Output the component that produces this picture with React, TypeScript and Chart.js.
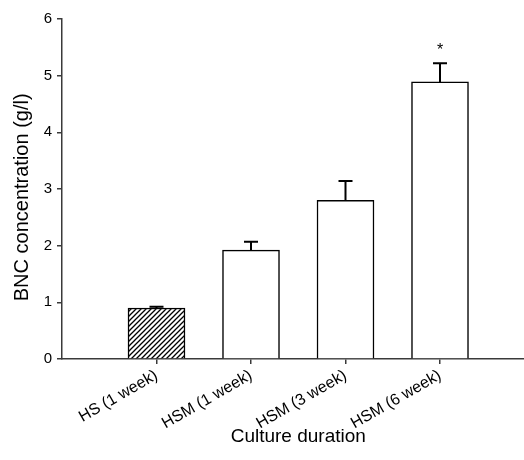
import React, { useEffect, useRef } from "react";
import { Chart, registerables } from "chart.js";

Chart.register(...registerables);

const categories = ["HS (1 week)", "HSM (1 week)", "HSM (3 week)", "HSM (6 week)"];
const positions = [1, 2, 3, 4];
const means = [0.9, 1.92, 2.8, 4.89];
const errors = [0.02, 0.15, 0.34, 0.33];
const marks = ["", "", "", "*"];
const yTicks = [0, 1, 2, 3, 4, 5, 6];

const FONT = "'Liberation Sans', Arial, Helvetica, sans-serif";
const AXIS = "#3a3a3a";

function makeHatch(ctx: CanvasRenderingContext2D) {
  const c = document.createElement("canvas");
  const s = 5;
  c.width = s;
  c.height = s;
  const g = c.getContext("2d")!;
  g.fillStyle = "#fff";
  g.fillRect(0, 0, s, s);
  g.strokeStyle = "#000";
  g.lineWidth = 1.3;
  g.beginPath();
  g.moveTo(0, s);
  g.lineTo(s, 0);
  g.moveTo(-1, 1);
  g.lineTo(1, -1);
  g.moveTo(s - 1, s + 1);
  g.lineTo(s + 1, s - 1);
  g.stroke();
  return ctx.createPattern(c, "repeat")!;
}

const errorPlugin = {
  id: "errorBars",
  afterDatasetsDraw(chart: any) {
    const { ctx } = chart;
    const xs = chart.scales.x;
    const ys = chart.scales.y;
    ctx.save();
    ctx.strokeStyle = "#000";
    ctx.lineWidth = 2;
    positions.forEach((p, i) => {
      const x = xs.getPixelForValue(p);
      const yb = ys.getPixelForValue(means[i]);
      const yt = ys.getPixelForValue(means[i] + errors[i]);
      ctx.beginPath();
      ctx.moveTo(x, yb);
      ctx.lineTo(x, yt);
      ctx.moveTo(x - 7, yt);
      ctx.lineTo(x + 7, yt);
      ctx.stroke();
      if (marks[i]) {
        ctx.fillStyle = "#000";
        ctx.font = `16px ${FONT}`;
        ctx.textAlign = "center";
        ctx.textBaseline = "alphabetic";
        ctx.fillText(marks[i], x, yt - 8);
      }
    });
    ctx.restore();
  },
};

export default function App() {
  const ref = useRef<HTMLCanvasElement | null>(null);
  useEffect(() => {
    const canvas = ref.current!;
    const ctx = canvas.getContext("2d")!;
    const hatch = makeHatch(ctx);
    const chart = new Chart(canvas, {
      type: "bar",
      data: {
        datasets: [
          {
            data: positions.map((p, i) => ({ x: p, y: means[i] })),
            backgroundColor: positions.map((_, i) => (i === 0 ? hatch : "#ffffff")) as any,
            borderColor: "#000",
            borderWidth: 1.5,
            borderSkipped: "bottom",
            barThickness: 57,
          } as any,
        ],
      },
      options: {
        responsive: false,
        animation: false,
        events: [],
        layout: { padding: { top: 19, left: 0, right: 5.5, bottom: 0 } },
        plugins: { legend: { display: false }, tooltip: { enabled: false } },
        scales: {
          x: {
            type: "linear",
            min: 0,
            max: 5,
            offset: false,
            afterBuildTicks: (s: any) => {
              s.ticks = positions.map((v) => ({ value: v }));
            },
            afterFit: (s: any) => {
              s.height = 101;
            },
            ticks: {
              autoSkip: false,
              minRotation: 30,
              maxRotation: 30,
              color: "#000",
              font: { family: FONT, size: 16 },
              padding: 2,
              callback: (v: any) => categories[positions.indexOf(Number(v))] ?? "",
            },
            grid: {
              offset: false,
              drawOnChartArea: false,
              drawTicks: true,
              tickLength: 5,
              color: AXIS,
              lineWidth: 1.5,
            },
            border: { display: true, color: AXIS, width: 1.5 },
            title: {
              display: true,
              text: "Culture duration",
              color: "#000",
              font: { family: FONT, size: 19 },
              padding: { top: 4, bottom: 12 },
            },
          },
          y: {
            min: 0,
            max: 6,
            afterBuildTicks: (s: any) => {
              s.ticks = yTicks.map((v) => ({ value: v }));
            },
            afterFit: (s: any) => {
              s.width = 62;
            },
            ticks: {
              color: "#000",
              font: { family: FONT, size: 15 },
              padding: 5,
            },
            grid: {
              drawOnChartArea: false,
              drawTicks: true,
              tickLength: 5,
              color: AXIS,
              lineWidth: 1.5,
            },
            border: { display: true, color: AXIS, width: 1.5 },
            title: {
              display: true,
              text: "BNC concentration (g/l)\u00A0\u00A0\u00A0",
              color: "#000",
              font: { family: FONT, size: 20 },
              padding: { top: 10, bottom: 0 },
            },
          },
        },
      },
      plugins: [errorPlugin],
    } as any);
    return () => chart.destroy();
  }, []);
  return (
    <div style={{ position: "fixed", left: 0, top: 0, width: 524, height: 460, overflow: "hidden", background: "#fff" }}>
      <canvas ref={ref} width={540} height={460} style={{ display: "block" }} />
    </div>
  );
}
